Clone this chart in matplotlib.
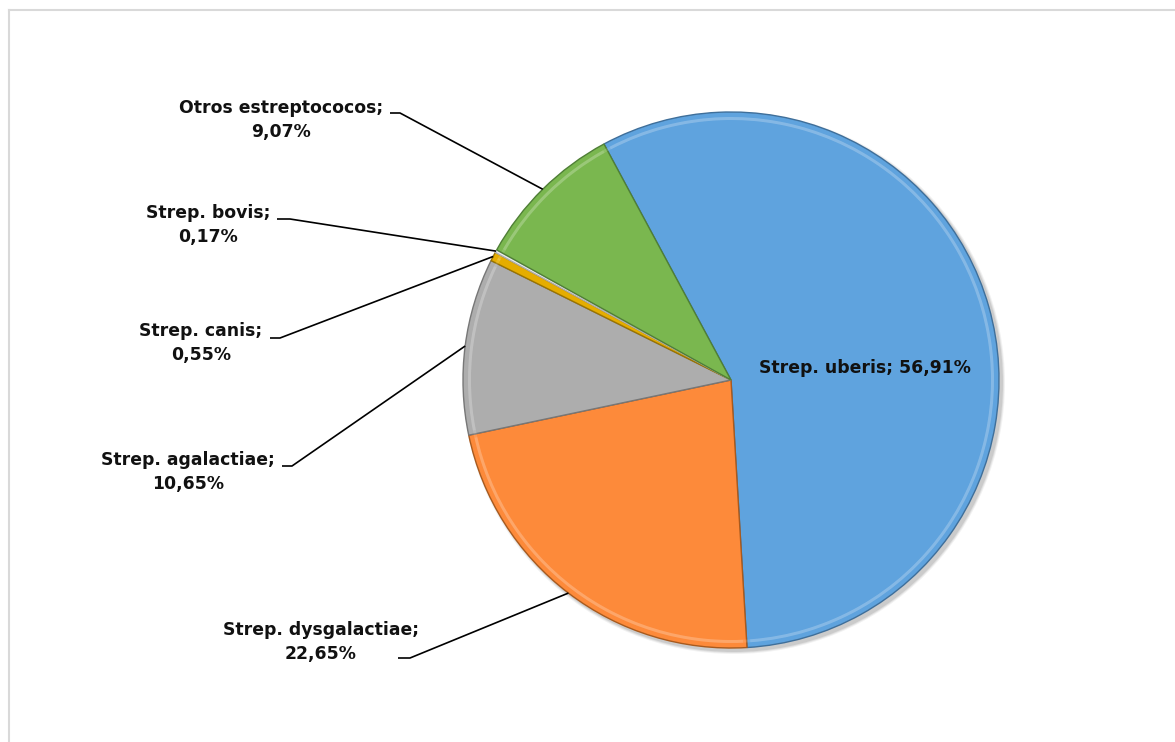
import numpy as np
import matplotlib.pyplot as plt
from matplotlib.patches import Circle, Wedge

# data
labels = ['Strep. uberis', 'Strep. dysgalactiae', 'Strep. agalactiae',
          'Strep. canis', 'Strep. bovis', 'Otros estreptococos']
values = [56.91, 22.65, 10.65, 0.55, 0.17, 9.07]
colors = ['#5fa3de', '#fd8a3a', '#adadad', '#e5ad00', '#e9ecef', '#7ab74f']
edges = ['#3f6f9a', '#a85a1e', '#777777', '#9a7400', '#b0b0b0', '#4f7f36']

W, H = 1175, 742
cx, cy, R = 731, H - 380, 268


def fmt(v):
    return f'{v:.2f}'.replace('.', ',') + '%'


fig = plt.figure(figsize=(W / 100, H / 100), dpi=100)
ax = fig.add_axes([0, 0, 1, 1])

# frame of the chart area (only top and left visible)
ax.plot([9, W], [H - 10, H - 10], color='#d9d9d9', lw=1.5)
ax.plot([9, 9], [0, H - 10], color='#d9d9d9', lw=1.5)

# soft shadow
for i, a in enumerate([0.05, 0.07, 0.09]):
    ax.add_patch(Circle((cx + 3, cy - 3), R + 3 - i, color='black', alpha=a, lw=0))

wedges, _ = ax.pie(values, colors=colors, startangle=118.3, counterclock=False,
                   center=(cx, cy), radius=R, frame=True,
                   wedgeprops=dict(linewidth=1.0))
for w, e in zip(wedges, edges):
    w.set_edgecolor(e)
    # bevel highlight near the rim
    ax.add_patch(Wedge((cx, cy), R - 5, w.theta1 + 0.8, w.theta2 - 0.8, width=3,
                       facecolor='white', alpha=0.13, lw=0))
ax.set_xlim(0, W)
ax.set_ylim(0, H)
ax.set_aspect('equal')
ax.axis('off')

font = dict(family='DejaVu Sans', fontweight='bold', fontsize=12.4,
            color='#111111', linespacing=1.38)

# inner label for the big slice
ax.text(865, H - 368, labels[0] + '; ' + fmt(values[0]),
        ha='center', va='center', **font)

# outside labels: (text centre x, text centre y, stub start x, stub y, stub end x)
label_pos = {
    5: (281, 120, 390, 113, 400),
    4: (208, 225, 277, 219, 290),
    3: (201, 343, 270, 338, 280),
    2: (188, 472, 282, 466, 292),
    1: (321, 642, 398, 658, 410),
}
for i, (tx, ty, sx, sy, ex) in label_pos.items():
    w = wedges[i]
    mid = np.deg2rad((w.theta1 + w.theta2) / 2)
    px, py = cx + R * np.cos(mid), cy + R * np.sin(mid)
    ax.text(tx, H - ty, labels[i] + ';\n' + fmt(values[i]),
            ha='center', va='center', **font)
    ax.plot([sx, ex, px], [H - sy, H - sy, py], color='black', lw=1.2,
            solid_capstyle='butt')

fig.savefig('out.png', dpi=100)
